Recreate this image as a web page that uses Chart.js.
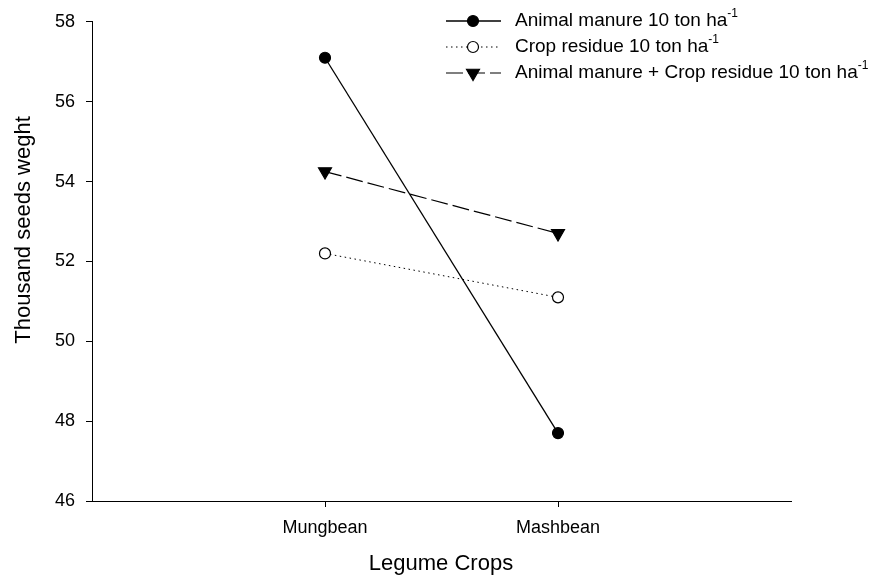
<!DOCTYPE html>
<html>
<head>
<meta charset="utf-8">
<style>
  html, body { margin: 0; padding: 0; background: #fff; }
  #wrap { width: 877px; height: 581px; }
</style>
<script src="https://cdn.jsdelivr.net/npm/chart.js@4.4.1/dist/chart.umd.min.js"></script>
</head>
<body>
<div id="wrap"><canvas id="seedChart" width="877" height="581"></canvas></div>
<script>
const crops = ["Mungbean", "Mashbean"];
const cropPositions = [1, 2];
const seriesNames = [
  "Animal manure 10 ton ha",
  "Crop residue 10 ton ha",
  "Animal manure + Crop residue 10 ton ha",
];
const unitSup = "-1";
const animalManure = [57.1, 47.7];
const cropResidue = [52.2, 51.1];
const combined = [54.25, 52.7];
const yTicks = [46, 48, 50, 52, 54, 56, 58];

const FONT = "'Liberation Sans', Arial, sans-serif";

function toPoints(values) {
  return values.map(function (v, i) { return { x: cropPositions[i], y: v }; });
}

const seriesStyles = [
  { dash: [], width: 1.3, style: "circle", radius: 5.5, fill: "#000", rotation: 0 },
  { dash: [1.5, 3.5], width: 1, style: "circle", radius: 5.5, fill: "#fff", rotation: 0 },
  { dash: [17, 5], width: 1.2, style: "triangle", radius: 7.5, fill: "#000", rotation: 180 },
];
const seriesValues = [animalManure, cropResidue, combined];

// legend drawn by hand so each entry shows line + marker like the original
const legendPlugin = {
  id: "lineLegend",
  afterDraw(chart) {
    const ctx = chart.ctx;
    const rows = [21, 47, 73];
    ctx.save();
    chart.data.datasets.forEach(function (ds, i) {
      const y = rows[i];
      const st = seriesStyles[i];
      ctx.strokeStyle = "#000";
      ctx.lineWidth = st.width;
      ctx.setLineDash(st.dash);
      ctx.beginPath();
      ctx.moveTo(446, y);
      ctx.lineTo(501, y);
      ctx.stroke();
      ctx.setLineDash([]);
      ctx.fillStyle = st.fill;
      ctx.lineWidth = 1.2;
      Chart.helpers.drawPoint(ctx, { pointStyle: st.style, radius: st.radius, rotation: st.rotation, borderWidth: 1.2 }, 473, y);
      ctx.fillStyle = "#000";
      ctx.font = "19px " + FONT;
      ctx.textBaseline = "middle";
      ctx.textAlign = "left";
      ctx.fillText(ds.label, 515, y);
      const w = ctx.measureText(ds.label).width;
      ctx.font = "12px " + FONT;
      ctx.fillText(unitSup, 515 + w, y - 7);
    });
    ctx.restore();
  },
};

const titlePlugin = {
  id: "axisTitles",
  afterDraw(chart) {
    const ctx = chart.ctx;
    ctx.save();
    ctx.fillStyle = "#000";
    ctx.font = "22px " + FONT;
    ctx.textAlign = "center";
    ctx.textBaseline = "middle";
    ctx.fillText("Legume Crops", 441, 564);
    ctx.translate(24, 230);
    ctx.rotate(-Math.PI / 2);
    ctx.fillText("Thousand seeds weght", 0, 0);
    ctx.restore();
  },
};

new Chart(document.getElementById("seedChart"), {
  type: "line",
  data: {
    datasets: seriesValues.map(function (vals, i) {
      const st = seriesStyles[i];
      return {
        label: seriesNames[i],
        data: toPoints(vals),
        borderColor: "#000",
        borderWidth: st.width,
        borderDash: st.dash,
        pointStyle: st.style,
        pointRadius: st.radius,
        pointRotation: st.rotation,
        pointBackgroundColor: st.fill,
        pointBorderColor: "#000",
        pointBorderWidth: 1.2,
        tension: 0,
      };
    }),
  },
  options: {
    responsive: false,
    animation: false,
    layout: { padding: { top: 17, right: 86, left: 0, bottom: 0 } },
    plugins: {
      legend: { display: false },
      tooltip: { enabled: false },
    },
    scales: {
      x: {
        type: "linear",
        min: 0,
        max: 3,
        afterBuildTicks(scale) {
          scale.ticks = cropPositions.map(function (v) { return { value: v }; });
        },
        afterFit(scale) { scale.height = 80; },
        ticks: {
          color: "#000",
          font: { size: 18, family: FONT },
          padding: 10,
          maxRotation: 0,
          callback(value) {
            const idx = cropPositions.indexOf(value);
            return idx >= 0 ? crops[idx] : "";
          },
        },
        grid: { drawOnChartArea: false, drawTicks: true, tickLength: 6, color: "#000", tickColor: "#000" },
        border: { display: true, color: "#000", width: 1 },
      },
      y: {
        min: 46,
        max: 58,
        afterBuildTicks(scale) {
          scale.ticks = yTicks.map(function (v) { return { value: v }; });
        },
        afterFit(scale) { scale.width = 92; },
        ticks: {
          color: "#000",
          font: { size: 18, family: FONT },
          padding: 11,
        },
        grid: { drawOnChartArea: false, drawTicks: true, tickLength: 6, color: "#000", tickColor: "#000" },
        border: { display: true, color: "#000", width: 1 },
      },
    },
  },
  plugins: [legendPlugin, titlePlugin],
});
</script>
</body>
</html>
